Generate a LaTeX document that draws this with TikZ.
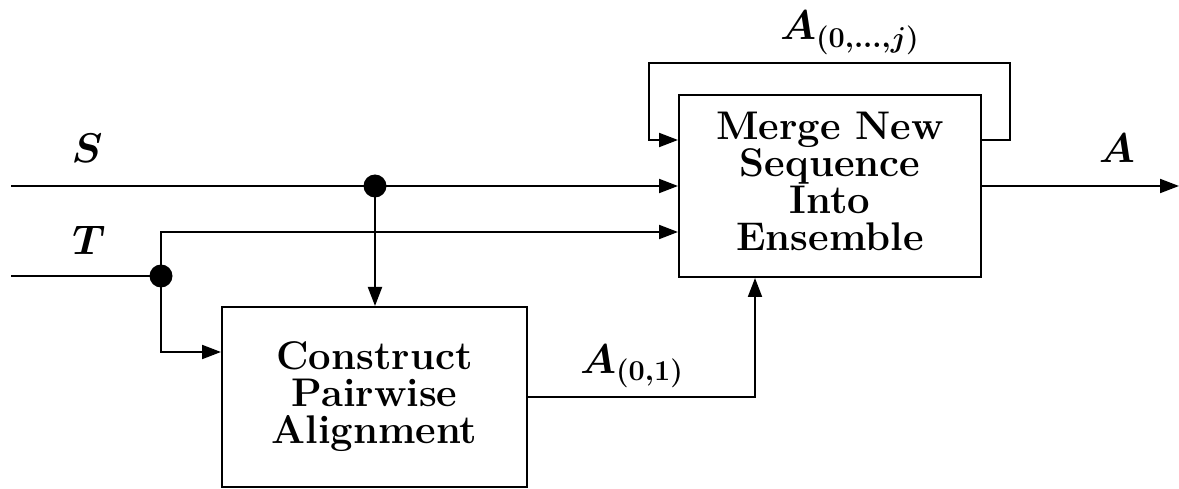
\documentclass[tikz,border=0pt]{standalone}
\usepackage{amsmath,bm,graphicx}
\usetikzlibrary{arrows.meta,calc}
\newcommand{\boxfont}{\fontsize{40}{37}\selectfont\bfseries\lineskiplimit=-100pt\relax}
\newcommand{\biglbl}[1]{\scalebox{2}{\fontsize{20}{24}\selectfont$#1$}}
\begin{document}
\begin{tikzpicture}[x=1pt,y=-1pt,line width=2pt,
  tip/.style={-{Triangle[length=19pt,width=14pt]}},
  blockbox/.style={draw,align=center,inner sep=0pt,font=\boxfont},
  junction/.style={circle,fill,inner sep=0pt,minimum size=23pt},
  lbl/.style={inner sep=0pt,anchor=base},
  lblw/.style={inner sep=0pt,anchor=base west}]
\useasboundingbox (0,0) rectangle (1179,489);
\node[blockbox,minimum width=302pt,minimum height=182pt] (merge) at (830,186)
  {Merge New\\Sequence\\Into\\Ensemble\\[-27pt]\mbox{}};
\node[blockbox,minimum width=305pt,minimum height=180pt] (construct) at (374.5,397)
  {Construct\\Pairwise\\Alignment};
\coordinate (sin) at (11,186);
\coordinate (tin) at (11,276);
\coordinate (aout) at (1179,186);
\node[junction] (sdot) at (375,186) {};
\node[junction] (tdot) at (161,276) {};
\node[lbl] (ls) at (87,163) {\biglbl{\bm{S}}};
\node[lbl] (lt) at (89,255) {\biglbl{\bm{T}}};
\node[lbl] (la) at (1117,163) {\biglbl{\bm{A}}};
\node[lblw] (laj) at (779,40) {\biglbl{\bm{A_{(0,\ldots,j)}}}};
\node[lblw] (la01) at (579,373) {\biglbl{\bm{A_{(0,1)}}}};
\draw (sin) -- (sdot.center);
\draw[tip] (sdot.center) -- (merge.west);
\draw[tip] (sdot.center) -- (sdot.center |- construct.north);
\draw (tin) -- (tdot.center);
\draw[tip] (tdot.center) |- ($(merge.west)+(0,46)$);
\draw[tip] (tdot.center) |- ($(construct.west)+(0,-45)$);
\draw[tip] (construct.east) -| ($(merge.south)+(-75,0)$);
\draw[tip] ($(merge.east)+(0,-46)$) -- ++(28,0) -- ++(0,-77)
  -- ($(merge.west)+(-29,-123)$) -- ++(0,77) -- ($(merge.west)+(0,-46)$);
\draw[tip] (merge.east) -- (aout);
\end{tikzpicture}
\end{document}
